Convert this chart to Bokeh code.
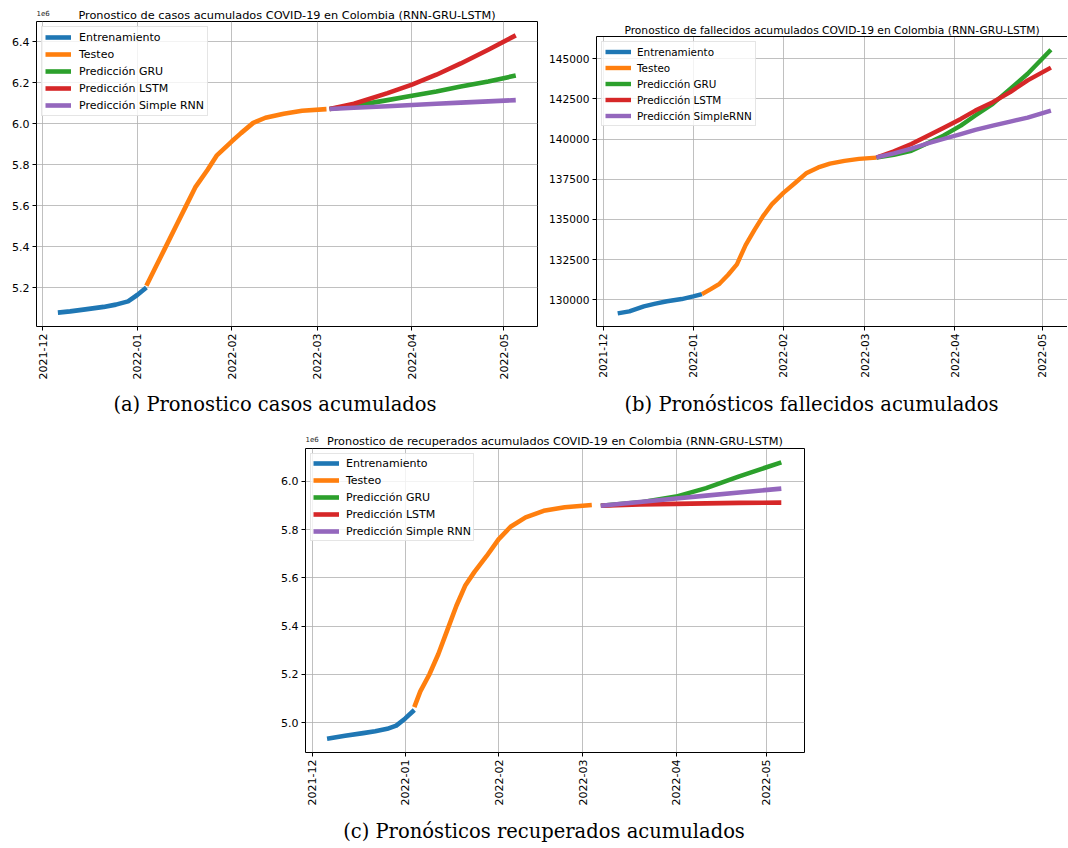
import math
import pandas as pd
from bokeh.plotting import figure
from bokeh.models import (Range1d, FixedTicker, DatetimeTickFormatter, NumeralTickFormatter,
                          Title, Div, Spacer, LinearAxis)
from bokeh.layouts import column, row
from bokeh.embed import file_html
from bokeh.resources import INLINE

# ---------------- data ----------------
series_names = ["Entrenamiento", "Testeo", "Predicción GRU", "Predicción LSTM", "Predicción Simple RNN"]
series_names_b = ["Entrenamiento", "Testeo", "Predicción GRU", "Predicción LSTM", "Predicción SimpleRNN"]
colors = ["#1f77b4", "#ff7f0e", "#2ca02c", "#d62728", "#9467bd"]

tick_dates = ["2021-12-01", "2022-01-01", "2022-02-01", "2022-03-01", "2022-04-01", "2022-05-01"]

# (a) casos acumulados (x 1e6)
a_train_dates = ["2021-12-06", "2021-12-10", "2021-12-15", "2021-12-21", "2021-12-25", "2021-12-29", "2022-01-01", "2022-01-04"]
a_train = [5.079, 5.085, 5.095, 5.107, 5.118, 5.134, 5.165, 5.202]
a_test_dates = ["2022-01-04", "2022-01-07", "2022-01-10", "2022-01-14", "2022-01-17", "2022-01-20", "2022-01-24",
                "2022-01-27", "2022-02-01", "2022-02-04", "2022-02-08", "2022-02-12", "2022-02-18", "2022-02-24", "2022-03-04"]
a_test = [5.21, 5.30, 5.39, 5.51, 5.60, 5.69, 5.775, 5.845, 5.915, 5.955, 6.005, 6.03, 6.05, 6.064, 6.072]
a_pred_dates = ["2022-03-05", "2022-03-13", "2022-03-24", "2022-04-01", "2022-04-09", "2022-04-17", "2022-04-26", "2022-05-05"]
a_gru = [6.073, 6.088, 6.116, 6.137, 6.158, 6.182, 6.207, 6.236]
a_lstm = [6.073, 6.098, 6.150, 6.192, 6.240, 6.295, 6.362, 6.432]
a_rnn = [6.073, 6.079, 6.086, 6.092, 6.098, 6.104, 6.110, 6.116]
a_yticks = [5.2, 5.4, 5.6, 5.8, 6.0, 6.2, 6.4]

# (b) fallecidos acumulados
b_train_dates = ["2021-12-06", "2021-12-10", "2021-12-15", "2021-12-19", "2021-12-23", "2021-12-28", "2022-01-01", "2022-01-04"]
b_train = [129150, 129275, 129585, 129750, 129900, 130040, 130200, 130350]
b_test_dates = ["2022-01-04", "2022-01-07", "2022-01-10", "2022-01-13", "2022-01-16", "2022-01-19", "2022-01-22",
                "2022-01-25", "2022-01-28", "2022-02-01", "2022-02-05", "2022-02-09", "2022-02-13", "2022-02-17",
                "2022-02-22", "2022-02-27", "2022-03-05"]
b_test = [130350, 130660, 130990, 131550, 132200, 133400, 134330, 135200, 135930, 136650, 137260, 137890,
          138230, 138470, 138640, 138760, 138840]
b_pred_dates = ["2022-03-05", "2022-03-11", "2022-03-17", "2022-03-22", "2022-03-28", "2022-04-03", "2022-04-08",
                "2022-04-14", "2022-04-20", "2022-04-26", "2022-05-04"]
b_gru = [138850, 139020, 139270, 139690, 140210, 140830, 141460, 142190, 143120, 144060, 145560]
b_lstm = [138850, 139230, 139690, 140140, 140690, 141250, 141770, 142290, 142920, 143650, 144440]
b_rnn = [138850, 139100, 139400, 139690, 140000, 140310, 140570, 140830, 141080, 141330, 141770]
b_yticks = [130000, 132500, 135000, 137500, 140000, 142500, 145000]

# (c) recuperados acumulados (x 1e6)
c_train_dates = ["2021-12-06", "2021-12-12", "2021-12-18", "2021-12-22", "2021-12-26", "2021-12-29", "2022-01-01", "2022-01-04"]
c_train = [4.934, 4.946, 4.957, 4.965, 4.975, 4.988, 5.018, 5.053]
c_test_dates = ["2022-01-04", "2022-01-06", "2022-01-09", "2022-01-12", "2022-01-15", "2022-01-18", "2022-01-21",
                "2022-01-24", "2022-01-28", "2022-02-01", "2022-02-05", "2022-02-10", "2022-02-16", "2022-02-23", "2022-03-04"]
c_test = [5.065, 5.13, 5.20, 5.285, 5.385, 5.485, 5.57, 5.625, 5.69, 5.76, 5.812, 5.851, 5.878, 5.893, 5.902]
c_pred_dates = ["2022-03-07", "2022-03-20", "2022-04-01", "2022-04-11", "2022-04-22", "2022-05-06"]
c_gru = [5.899, 5.913, 5.937, 5.972, 6.021, 6.079]
c_lstm = [5.899, 5.904, 5.907, 5.909, 5.911, 5.912]
c_rnn = [5.899, 5.915, 5.929, 5.941, 5.954, 5.970]
c_yticks = [5.0, 5.2, 5.4, 5.6, 5.8, 6.0]

titles = ["Pronostico de casos acumulados COVID-19 en Colombia (RNN-GRU-LSTM)",
          "Pronostico de fallecidos acumulados COVID-19 en Colombia (RNN-GRU-LSTM)",
          "Pronostico de recuperados acumulados COVID-19 en Colombia (RNN-GRU-LSTM)"]
captions = ["(a) Pronostico casos acumulados",
            "(b) Pronósticos fallecidos acumulados",
            "(c) Pronósticos recuperados acumulados"]
offset_label = "1e6"

FONT = "DejaVu Sans"


def ms(d):
    return pd.Timestamp(d).value / 1e6


def dt(lst):
    return pd.to_datetime(lst)


def build(title, tpx, fpx, lpx, width, height, borders, xr, yr, yticks, yfmt, data, names, lw, legend_cfg,
          standoff, offset_standoff=None, cut_right=False):
    bl, br, bt, bb = borders
    p = figure(width=width, height=height, x_axis_type="datetime",
               x_range=Range1d(ms(xr[0]), ms(xr[1])), y_range=Range1d(yr[0], yr[1]),
               output_backend="svg", toolbar_location=None,
               min_border_left=bl, min_border_right=br, min_border_top=bt, min_border_bottom=bb,
               title=None)
    if cut_right:
        # top spine only (the right side of this panel is cut off in the reference)
        top = LinearAxis(ticker=FixedTicker(ticks=[]), major_label_text_font_size="0px",
                         major_tick_line_color=None, minor_tick_line_color=None,
                         major_tick_out=0, major_tick_in=0, minor_tick_out=0, minor_tick_in=0,
                         axis_line_color="black", major_label_standoff=0)
        p.add_layout(top, "above")
    main_title = Title(text=title, text_font=FONT, text_font_size=f"{tpx}px", text_font_style="normal",
                       text_color="black", align="center", standoff=standoff)
    p.add_layout(main_title, "above")
    if offset_standoff is not None:
        p.add_layout(Title(text=offset_label, text_font=FONT, text_font_size="7px", text_font_style="normal",
                           text_color="#222222", align="left", standoff=offset_standoff), "above")
    p.background_fill_color = "white"
    p.border_fill_color = "white"

    xt = FixedTicker(ticks=[ms(d) for d in tick_dates])
    yt = FixedTicker(ticks=yticks)
    xa = p.below[0]
    ya = p.left[0]
    xa.ticker = xt
    ya.ticker = yt
    xa.formatter = DatetimeTickFormatter(days="%Y-%m", months="%Y-%m", years="%Y-%m")
    ya.formatter = NumeralTickFormatter(format=yfmt)
    xa.major_label_orientation = math.pi / 2
    for ax in (xa, ya):
        ax.major_label_text_font = FONT
        ax.major_label_text_font_size = f"{fpx}px"
        ax.major_label_text_color = "black"
        ax.major_tick_in = 0
        ax.major_tick_out = 4
        ax.major_tick_line_color = "black"
        ax.minor_tick_line_color = None
        ax.major_label_standoff = 3
    p.xgrid.ticker = xt
    p.ygrid.ticker = yt
    for g in (p.xgrid, p.ygrid):
        g.grid_line_color = "#b0b0b0"
        g.grid_line_width = 0.8

    if cut_right:
        p.outline_line_color = None
        xa.axis_line_color = "black"
        ya.axis_line_color = "black"
    else:
        p.outline_line_color = "black"
        p.outline_line_width = 1
        xa.axis_line_color = None
        ya.axis_line_color = None

    for (dates, vals), name, col in zip(data, names, colors):
        p.line(dt(dates), vals, line_color=col, line_width=lw, line_join="round", legend_label=name)

    lg = p.legend[0]
    lg.location = "top_left"
    lg.label_text_font = FONT
    lg.label_text_font_size = f"{lpx}px"
    lg.label_text_color = "black"
    lg.glyph_width = legend_cfg["gw"]
    lg.glyph_height = legend_cfg["h"]
    lg.label_height = legend_cfg["h"]
    lg.spacing = legend_cfg["sp"]
    lg.padding = legend_cfg["pad"]
    lg.margin = legend_cfg["margin"]
    lg.label_standoff = legend_cfg["st"]
    lg.border_line_color = "#cccccc"
    lg.border_line_width = 1
    lg.background_fill_alpha = 0.8
    return p


pa = build(titles[0], 11.3, 11, 11, 540, 385, (36, 3, 21, 59),
           ("2021-11-29 00:00", "2022-05-12 03:00"), (5.0113, 6.4997), a_yticks, "0.0",
           [(a_train_dates, a_train), (a_test_dates, a_test), (a_pred_dates, a_gru),
            (a_pred_dates, a_lstm), (a_pred_dates, a_rnn)],
           series_names, 4.6, dict(gw=26, h=14, sp=3, pad=3, margin=5, st=8), standoff=0, offset_standoff=-19)

pb = build(titles[1], 10.7, 10.6, 10.4, 527, 370, (56, 0, 21, 59),
           ("2021-11-28 17:00", "2022-05-09 17:00"), (128330, 146380), b_yticks, "0",
           [(b_train_dates, b_train), (b_test_dates, b_test), (b_pred_dates, b_gru),
            (b_pred_dates, b_lstm), (b_pred_dates, b_rnn)],
           series_names_b, 4.4, dict(gw=26, h=13, sp=3, pad=3, margin=5, st=6), standoff=0, cut_right=True)

pc = build(titles[2], 11.3, 11, 11, 532, 385, (29, 4, 23, 58),
           ("2021-11-28 20:00", "2022-05-13 17:00"), (4.8768, 6.1363), c_yticks, "0.0",
           [(c_train_dates, c_train), (c_test_dates, c_test), (c_pred_dates, c_gru),
            (c_pred_dates, c_lstm), (c_pred_dates, c_rnn)],
           series_names, 4.6, dict(gw=26, h=14, sp=3, pad=2, margin=5, st=7), standoff=1, offset_standoff=-19)

cap_style = {"font-family": "DejaVu Serif", "font-size": "19.5px", "text-align": "center",
             "color": "black", "white-space": "nowrap", "box-sizing": "border-box"}

div_a = Div(text=captions[0], width=540, height=40, margin=0,
            styles=dict(cap_style, **{"line-height": "40px", "padding-left": "10px"}))
div_b = Div(text=captions[1], width=527, height=40, margin=0,
            styles=dict(cap_style, **{"line-height": "40px", "padding-left": "16px"}))
div_c = Div(text=captions[2], width=532, height=36, margin=0,
            styles=dict(cap_style, **{"line-height": "24px", "padding-top": "10px", "padding-left": "4px"}))

layout = column(
    row(pa, column(Spacer(width=527, height=15, margin=0), pb)),
    row(div_a, div_b),
    row(Spacer(width=276, height=385, margin=0), pc),
    row(Spacer(width=276, height=36, margin=0), div_c),
)

open("out.html", "w").write(file_html(layout, INLINE))
